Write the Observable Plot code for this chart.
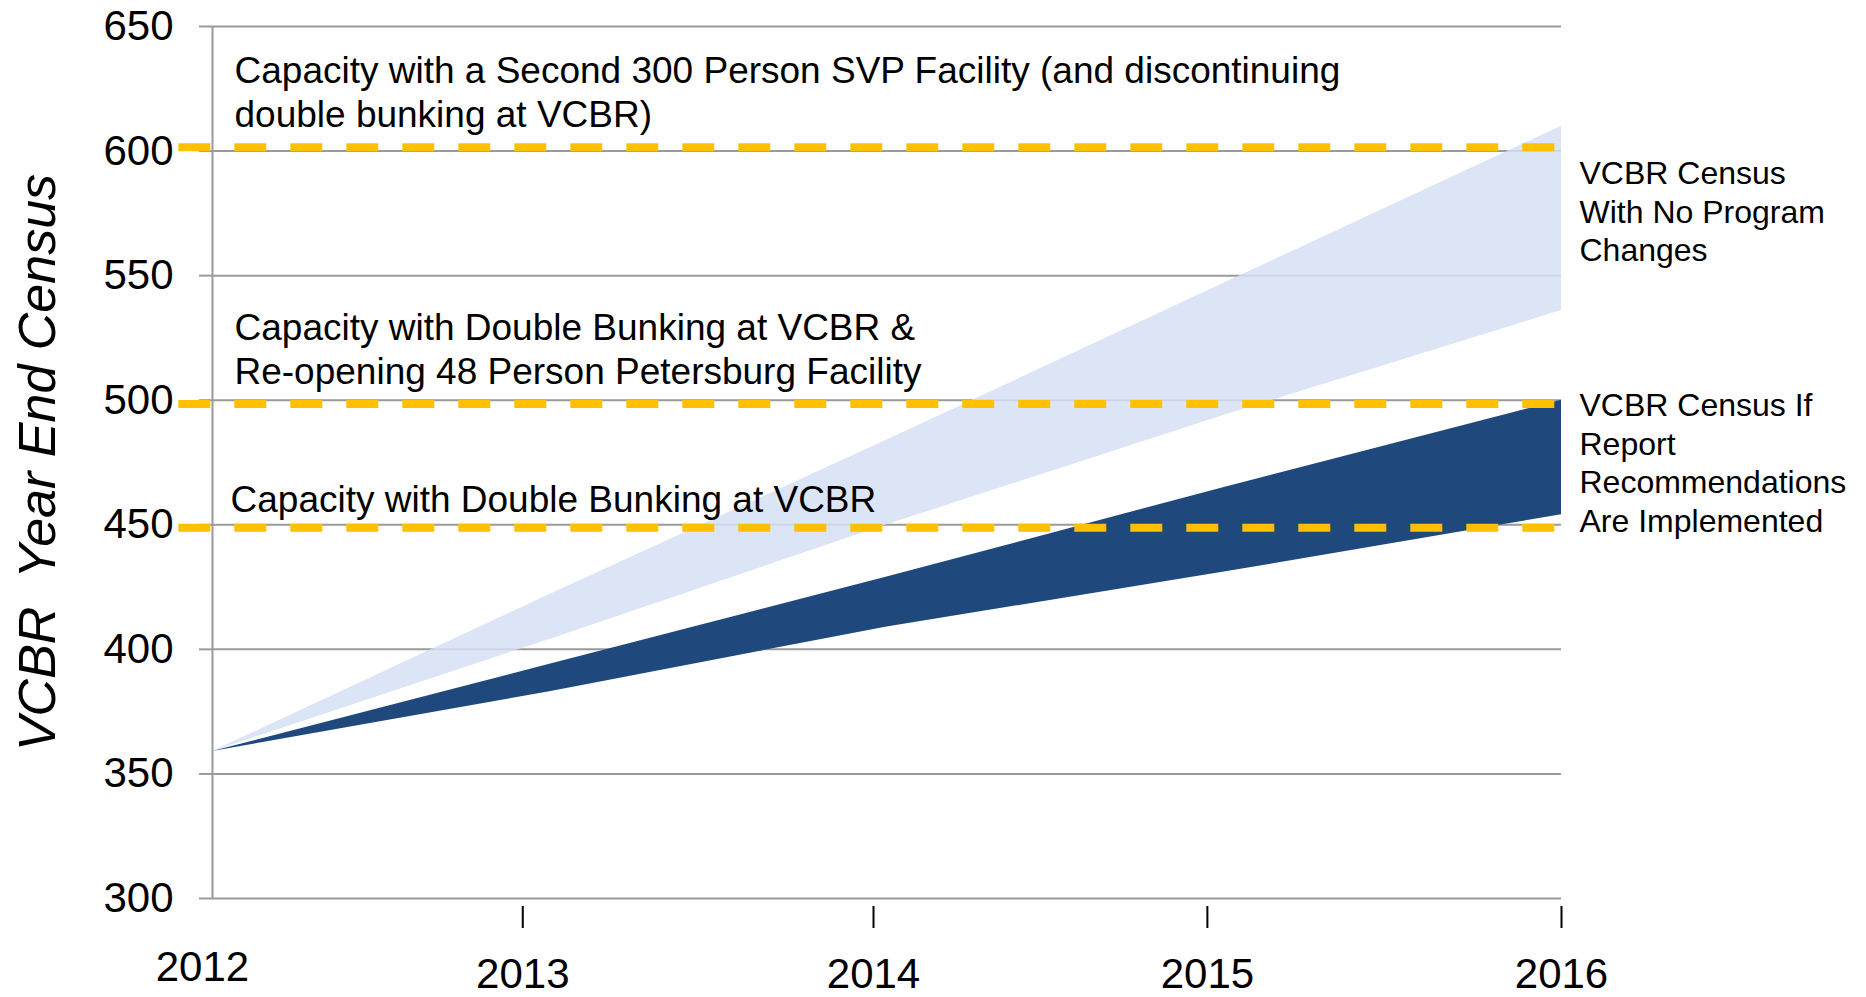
<!DOCTYPE html>
<html><head><meta charset="utf-8">
<script src="https://cdn.jsdelivr.net/npm/d3@7"></script>
<script src="https://cdn.jsdelivr.net/npm/@observablehq/plot@0.6"></script>
<style>
html,body{margin:0;padding:0;background:#fff;}
svg text{white-space:pre;}
</style></head><body><div id="chart"></div>
<script>
// ---- data ----
const years        = [2012, 2013, 2014, 2015, 2016];
const noChangeHigh = [359, 422, 484, 547, 610];
const noChangeLow  = [359, 404, 450, 494, 536];
const recHigh      = [359, 394, 429, 465, 500];
const recLow       = [359, 383, 409, 431, 454];

const capacityValues = [601.5, 498.5, 448.8];
const capacityLabels = [
  "Capacity with a Second 300 Person SVP Facility (and discontinuing\ndouble bunking at VCBR)",
  "Capacity with Double Bunking at VCBR &\nRe-opening 48 Person Petersburg Facility",
  "Capacity with Double Bunking at VCBR"
];
const seriesLabels = [
  "VCBR Census\nWith No Program\nChanges",
  "VCBR Census If\nReport\nRecommendations\nAre Implemented"
];
const yTicks = [300, 350, 400, 450, 500, 550, 600, 650];
const xTickLabels = ["2012", "2013", "2014", "2015", "2016"];
const xTickAt = [2011.97, 2012.92, 2013.96, 2014.95, 2016];
const yTitle = "VCBR  Year End Census";

// ---- tables built from the arrays ----
const noChange = years.map((y, i) => ({year: y, low: noChangeLow[i], high: noChangeHigh[i]}));
const rec = years.map((y, i) => ({year: y, low: recLow[i], high: recHigh[i]}));
const caps = capacityValues.map((v, i) => ({v, label: capacityLabels[i]}));
const last = years.length - 1;
const sLabelNoChange = [{label: seriesLabels[0], y: (noChangeLow[last] + noChangeHigh[last]) / 2}];
const sLabelRec = [{label: seriesLabels[1], y: (recLow[last] + recHigh[last]) / 2}];
const xt = xTickAt.map((x, i) => ({x, label: xTickLabels[i]}));

const font = "Liberation Sans, Arial, sans-serif";
const yellow = "#FFC000";

const chart = Plot.plot({
  width: 1866,
  height: 997,
  marginLeft: 212,
  marginRight: 305,
  marginTop: 26,
  marginBottom: 99,
  style: {fontFamily: font, background: "#fff", color: "#000"},
  x: {domain: [2012, 2016], axis: null},
  y: {domain: [300, 650], axis: null},
  marks: [
    Plot.gridY(yTicks, {stroke: "#9a9a9a", strokeOpacity: 1, strokeWidth: 2}),
    Plot.axisY(yTicks, {tickSize: 13, tickPadding: 26, fontSize: 42, stroke: "#9a9a9a", strokeWidth: 2, label: null, tickFormat: d => String(d)}),
    Plot.ruleX([2012], {stroke: "#9a9a9a", strokeWidth: 2}),
    Plot.areaY(noChange, {x: "year", y1: "low", y2: "high", fill: "#d5e1f3", fillOpacity: 0.85}),
    Plot.areaY(rec, {x: "year", y1: "low", y2: "high", fill: "#1f497d"}),
    Plot.ruleY(caps, {y: "v", x1: 2011.9, x2: 2016, stroke: yellow, strokeWidth: 8, strokeDasharray: "32,24"}),
    Plot.text(caps.slice(0, 2), {x: 2012, y: "v", text: "label", textAnchor: "start", lineAnchor: "bottom", lineHeight: 1.2, dx: 22, dy: -20, fontSize: 37, fill: "#000"}),
    Plot.text(caps.slice(2), {x: 2012, y: "v", text: "label", textAnchor: "start", lineAnchor: "bottom", dx: 18, dy: -16, fontSize: 37, fill: "#000"}),
    Plot.text(sLabelNoChange, {x: 2016, y: "y", text: "label", textAnchor: "start", lineAnchor: "middle", lineHeight: 1.21, dx: 18, dy: -8, fontSize: 32, fill: "#000"}),
    Plot.text(sLabelRec, {x: 2016, y: "y", text: "label", textAnchor: "start", lineAnchor: "middle", lineHeight: 1.21, dx: 18, dy: 4, fontSize: 32, fill: "#000"}),
    Plot.axisX(xTickAt.slice(1), {tickSize: 22, dy: 8, stroke: "#000", strokeWidth: 2, tickFormat: () => "", label: null}),
    Plot.text(xt.slice(0, 1), {x: "x", text: "label", frameAnchor: "bottom", lineAnchor: "bottom", dy: 82, fontSize: 42, fill: "#000"}),
    Plot.text(xt.slice(1), {x: "x", text: "label", frameAnchor: "bottom", lineAnchor: "bottom", dy: 89, fontSize: 42, fill: "#000"}),
    Plot.text([yTitle], {frameAnchor: "left", textAnchor: "middle", lineAnchor: "middle", rotate: -90, dx: -174, fontSize: 52, fontStyle: "italic", fill: "#000"})
  ]
});
document.getElementById("chart").appendChild(chart);
</script></body></html>
